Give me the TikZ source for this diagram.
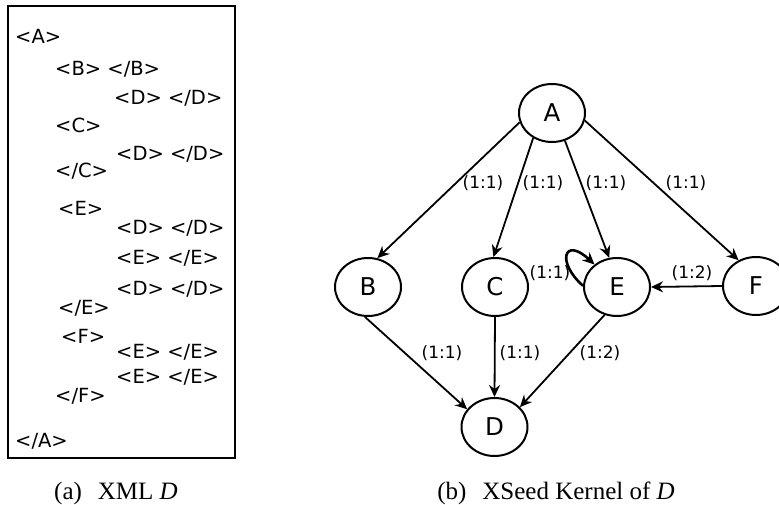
\documentclass[tikz,border=0pt]{standalone}
\usepackage{fontspec}
\usetikzlibrary{shapes.geometric,arrows.meta}
\setmainfont{DejaVu Sans}
\newfontfamily\capfont{Liberation Serif}
\begin{document}
\begin{tikzpicture}[x=1pt,y=-1pt,
  xmltxt/.style={anchor=base west,inner sep=0pt,font=\fontsize{19.5}{21}\selectfont},
  gnode/.style={draw,ellipse,line width=2pt,minimum width=66pt,minimum height=58pt,inner sep=0pt,font=\fontsize{24.5}{26}\selectfont},
  elab/.style={inner sep=0pt,font=\fontsize{17}{18}\selectfont},
  edge/.style={line width=1.8pt,-{Stealth[length=12pt,width=11pt,inset=4pt]}},
  loopedge/.style={line width=2.6pt,-{Stealth[length=12pt,width=11pt,inset=4pt]}},
  capt/.style={anchor=base,inner sep=0pt,font=\capfont\fontsize{25}{26}\selectfont}]
\clip (0,0) rectangle (779,505);
% left panel
\node[draw,line width=1.5pt,minimum width=227pt,minimum height=452pt,inner sep=0pt] (box) at (121.5,232) {};
\node[xmltxt] (t1) at (15,44) {<A>};
\node[xmltxt] (t2) at (55,76) {<B> </B>};
\node[xmltxt] (t3) at (114,105) {<D> </D>};
\node[xmltxt] (t4) at (55,133) {<C>};
\node[xmltxt] (t5) at (116,161) {<D> </D>};
\node[xmltxt] (t6) at (55,178) {</C>};
\node[xmltxt] (t7) at (58,215) {<E>};
\node[xmltxt] (t8) at (116,234) {<D> </D>};
\node[xmltxt] (t9) at (116,265) {<E> </E>};
\node[xmltxt] (t10) at (116,295) {<D> </D>};
\node[xmltxt] (t11) at (58,314) {</E>};
\node[xmltxt] (t12) at (61,343) {<F>};
\node[xmltxt] (t13) at (116,358) {<E> </E>};
\node[xmltxt] (t14) at (116,383) {<E> </E>};
\node[xmltxt] (t15) at (55,402) {</F>};
\node[xmltxt] (t16) at (15,447) {</A>};
\node[capt] (capa) at (116,499) {(a)\hspace{16pt}XML \textit{D}};
% right panel
\node[gnode] (A) at (552,113) {A};
\node[gnode] (B) at (368,287) {B};
\node[gnode] (C) at (495,287) {C};
\node[gnode] (E) at (617,287) {E};
\node[gnode] (F) at (756,286) {F};
\node[gnode] (D) at (494.5,427) {D};
\draw[edge] (A.196) -- (B.72.6);
\draw[edge] (A.233.5) -- (C.93.6);
\draw[edge] (A.-65.9) -- (E.105.7);
\draw[edge] (A.-13) -- (F.124);
\draw[edge] (F.180) -- (E.0);
\draw[edge] (B.264.5) -- (D.147);
\draw[edge] (C.270) -- (D.90);
\draw[edge] (E.246.8) -- (D.38);
\draw[loopedge] (E.178) .. controls (556,262) and (564,236) .. (E.135);
\node[elab] (l1) at (483,183) {(1:1)};
\node[elab] (l2) at (543,183) {(1:1)};
\node[elab] (l3) at (606,183) {(1:1)};
\node[elab] (l4) at (686,183) {(1:1)};
\node[elab] (l5) at (550,273) {(1:1)};
\node[elab] (l6) at (692,273) {(1:2)};
\node[elab] (l7) at (442,353) {(1:1)};
\node[elab] (l8) at (520,353) {(1:1)};
\node[elab] (l9) at (600,353) {(1:2)};
\node[capt] (capb) at (556,499) {(b)\hspace{16pt}XSeed Kernel of \textit{D}};
\end{tikzpicture}
\end{document}
